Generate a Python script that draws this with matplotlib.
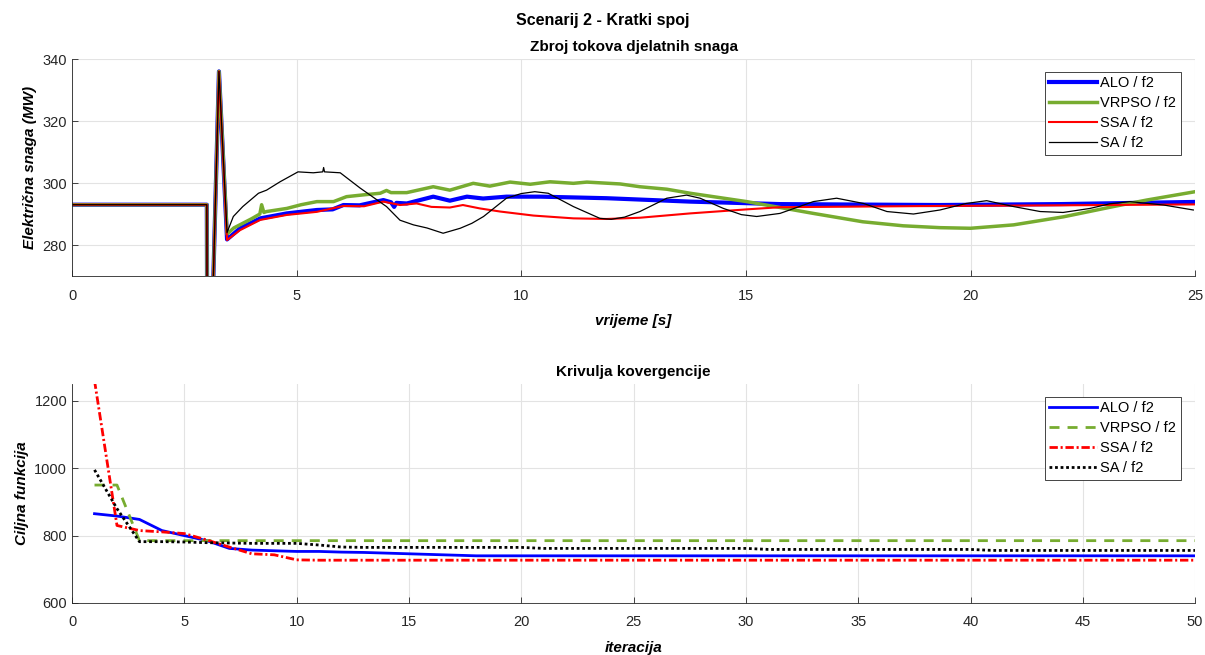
import matplotlib
matplotlib.use("Agg")
import matplotlib.pyplot as plt

plt.rcParams['font.family'] = ['Liberation Sans', 'DejaVu Sans']

# --- top plot: sum of active power flows (MW) vs time (s) ---
# common pre-fault / fault segment (all four runs overlap here)
t_fault = [0.0, 3.0, 3.01, 3.09, 3.27]
p_fault = [293.0, 293.0, 240.0, 240.0, 336.0]

t_alo = [3.45, 3.74, 4.19, 4.78, 5.45, 5.8, 6.04, 6.4, 6.93, 7.1, 7.17, 7.22, 7.45,
         8.04, 8.41, 8.79, 9.15, 9.67, 10.42, 11.9, 13.76, 15.76, 19.3, 22.0, 25.0]
p_alo = [281.8, 285.4, 288.6, 290.2, 291.3, 291.5, 292.9, 292.8, 294.5, 293.8, 292.3, 293.6, 293.4,
         295.6, 294.3, 295.6, 295.0, 295.6, 295.6, 295.1, 294.0, 293.2, 292.9, 293.2, 293.9]

t_vrpso = [3.45, 3.6, 4.0, 4.18, 4.22, 4.27, 4.33, 4.78, 5.1, 5.45, 5.82, 6.11, 6.5, 6.86, 7.0, 7.1,
           7.45, 8.04, 8.41, 8.93, 9.3, 9.75, 10.2, 10.64, 11.16, 11.46, 12.2, 12.64, 13.24,
           13.76, 15.02, 16.5, 17.6, 18.5, 19.32, 20.0, 20.96, 22.07, 23.18, 23.92, 25.0]
p_vrpso = [283.5, 285.5, 288.5, 290.0, 293.0, 290.5, 290.8, 291.8, 293.0, 294.0, 294.0, 295.6, 296.2, 296.7, 297.6, 296.9,
           296.9, 298.8, 297.7, 299.9, 299.0, 300.3, 299.6, 300.4, 299.9, 300.3, 299.7, 298.8, 298.0,
           296.7, 294.0, 290.2, 287.5, 286.2, 285.6, 285.4, 286.5, 289.1, 292.4, 294.5, 297.2]

t_ssa = [3.45, 3.74, 4.19, 4.78, 5.45, 6.04, 6.5, 6.93, 7.3, 7.67, 8.0, 8.41, 8.7, 9.08, 9.53,
         10.27, 11.16, 11.9, 12.64, 13.76, 15.02, 15.76, 19.3, 22.0, 25.0]
p_ssa = [281.6, 284.8, 288.1, 289.7, 290.7, 292.6, 292.5, 294.0, 292.9, 293.4, 292.3, 292.1, 292.9, 291.8, 290.8,
         289.5, 288.6, 288.4, 288.8, 290.2, 291.5, 292.2, 292.6, 292.8, 293.1]

t_sa = [3.45, 3.59, 3.8, 4.15, 4.33, 4.63, 5.03, 5.37, 5.58, 5.6, 5.62, 5.97, 6.41, 7.0, 7.3, 7.6, 7.9,
        8.26, 8.64, 8.9, 9.16, 9.67, 10.0, 10.3, 10.6, 11.16, 11.75, 12.0, 12.3, 12.64, 13.24, 13.68,
        13.98, 14.5, 14.9, 15.24, 15.76, 16.5, 17.02, 17.62, 18.14, 18.73, 19.32, 19.9, 20.36,
        20.96, 21.55, 22.06, 22.66, 23.1, 23.55, 24.3, 24.96]
p_sa = [284.0, 289.2, 292.4, 296.7, 297.7, 300.4, 303.6, 303.3, 303.6, 305.0, 303.6, 303.3, 298.4, 292.4, 288.0, 286.5, 285.5,
        283.8, 285.4, 287.0, 289.2, 295.1, 296.6, 297.2, 296.7, 292.4, 288.6, 288.3, 289.0, 290.8, 295.1, 296.1,
        295.1, 291.8, 289.8, 289.2, 290.2, 294.0, 295.1, 293.4, 290.8, 290.0, 291.3, 293.4, 294.3,
        292.4, 290.8, 290.5, 291.8, 293.3, 294.0, 292.9, 291.3]

# --- bottom plot: convergence curves ---
iteracije = list(range(1, 51))
c_alo = [865, 858, 848, 815, 800, 785, 762, 757, 755, 753,
         753, 751, 750, 748, 746, 744, 742, 740, 740, 740,
         740, 740, 740, 740, 740, 740, 740, 740, 740, 740,
         740, 740, 740, 740, 740, 740, 740, 740, 740, 740,
         740, 740, 740, 740, 740, 740, 740, 740, 740, 740]
c_vrpso = [950, 950, 785, 785, 785, 785, 785, 785, 785, 785,
           785, 785, 785, 785, 785, 785, 785, 785, 785, 785,
           785, 785, 785, 785, 785, 785, 785, 785, 785, 785,
           785, 785, 785, 785, 785, 785, 785, 785, 785, 785,
           785, 785, 785, 785, 785, 785, 785, 785, 785, 785]
c_ssa = [1260, 830, 815, 811, 806, 787, 766, 746, 743, 728,
         727, 727, 727, 727, 727, 727, 727, 727, 727, 727,
         727, 727, 727, 727, 727, 727, 727, 727, 727, 727,
         727, 727, 727, 727, 727, 727, 727, 727, 727, 727,
         727, 727, 727, 727, 727, 727, 727, 727, 727, 727]
c_sa = [995, 880, 782, 782, 781, 779, 778, 777, 777, 777,
        772, 766, 765, 765, 765, 765, 765, 765, 765, 765,
        762, 762, 762, 762, 762, 762, 762, 762, 762, 762,
        759, 759, 759, 759, 759, 759, 759, 759, 759, 759,
        756, 756, 756, 756, 756, 756, 756, 756, 756, 756]

labels = ['ALO / f2', 'VRPSO / f2', 'SSA / f2', 'SA / f2']
green = '#77AC30'
axcol = '#262626'

fig = plt.figure(figsize=(12.05, 6.55), dpi=100)
ax1 = fig.add_axes([0.0598, 0.5786, 0.932, 0.3313])
ax2 = fig.add_axes([0.0598, 0.0794, 0.932, 0.3344])


def style(ax):
    for s in ['top', 'right']:
        ax.spines[s].set_visible(False)
    for s in ['left', 'bottom']:
        ax.spines[s].set_color(axcol)
        ax.spines[s].set_linewidth(0.6)
    ax.tick_params(direction='in', length=4, width=0.6, colors=axcol, labelsize=10.5)
    ax.tick_params(axis='x', pad=9)
    ax.grid(True, color='#e3e3e3', linewidth=0.8)
    ax.set_axisbelow(True)


def legend(ax):
    leg = ax.legend(loc='upper right', fontsize=10.5, handlelength=3.3, handletextpad=0.2,
                    labelspacing=0.42, borderpad=0.3, fancybox=False, framealpha=1,
                    bbox_to_anchor=(0.9935, 0.975))
    leg.get_frame().set_edgecolor(axcol)
    leg.get_frame().set_linewidth(0.6)


style(ax1)
ax1.plot(t_fault + t_alo, p_fault + p_alo, color='blue', lw=3, label=labels[0])
ax1.plot(t_fault + t_vrpso, p_fault + p_vrpso, color=green, lw=2.5, label=labels[1])
ax1.plot(t_fault + t_ssa, p_fault + p_ssa, color='red', lw=1.5, label=labels[2])
ax1.plot(t_fault + t_sa, p_fault + p_sa, color='black', lw=0.9, label=labels[3])
ax1.set_xlim(0, 25)
ax1.set_ylim(270, 340)
ax1.set_xticks([0, 5, 10, 15, 20, 25])
ax1.set_yticks([280, 300, 320, 340])
ax1.set_title('Zbroj tokova djelatnih snaga', fontsize=11, fontweight='bold', pad=6)
ax1.set_xlabel('vrijeme [s]', fontsize=11, fontweight='bold', style='italic', labelpad=8)
ax1.set_ylabel('Električna snaga (MW)', fontsize=11, fontweight='bold', style='italic', labelpad=4)
legend(ax1)

style(ax2)
ax2.plot(iteracije, c_alo, color='blue', lw=2, label=labels[0])
ax2.plot(iteracije, c_vrpso, color=green, lw=2, dashes=(3.6, 2.9), label=labels[1])
ax2.plot(iteracije, c_ssa, color='red', lw=2, dashes=(3, 1, 0.75, 1), label=labels[2])
ax2.plot(iteracije, c_sa, color='black', lw=2, dashes=(1, 1), label=labels[3])
ax2.set_xlim(0, 50)
ax2.set_ylim(600, 1250)
ax2.set_xticks(list(range(0, 51, 5)))
ax2.set_yticks([600, 800, 1000, 1200])
ax2.set_title('Krivulja kovergencije', fontsize=11, fontweight='bold', pad=6)
ax2.set_xlabel('iteracija', fontsize=11, fontweight='bold', style='italic', labelpad=8)
ax2.set_ylabel('Ciljna funkcija', fontsize=11, fontweight='bold', style='italic', labelpad=4)
legend(ax2)

fig.suptitle('Scenarij 2 - Kratki spoj', fontsize=11.5, fontweight='bold', y=0.98)

fig.savefig('out.png', dpi=100)
